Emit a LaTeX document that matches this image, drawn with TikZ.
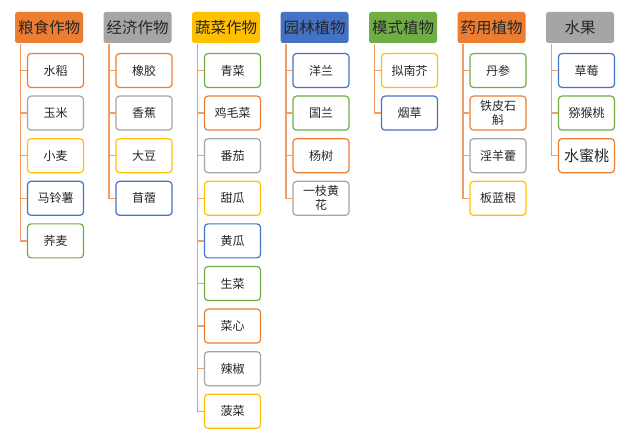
\documentclass[tikz,border=0pt]{standalone}
\usepackage{fontspec}
\setmainfont{Noto Sans CJK SC}
\usetikzlibrary{positioning,calc}

\definecolor{orng}{HTML}{ED7D31}
\definecolor{gry}{HTML}{A5A5A5}
\definecolor{gld}{HTML}{FFC000}
\definecolor{blu}{HTML}{4472C4}
\definecolor{grn}{HTML}{70AD47}
\definecolor{ink}{HTML}{262626}

\begin{document}
\begin{tikzpicture}[x=1pt, y=1pt, line width=1.2pt,
    head/.style={fill=#1, rounded corners=2.5pt, minimum width=68pt, minimum height=31pt,
      inner sep=0pt, text=ink, font=\fontsize{15.5}{17}\selectfont},
    crop/.style={draw=#1, fill=white, rounded corners=3.5pt, minimum width=56pt, minimum height=34pt,
      inner sep=0pt, align=center, text=ink, font=\fontsize{12}{14}\selectfont},
    link/.style={draw=orng!75, line width=1.5pt}]
  \useasboundingbox (0,0) rectangle (632,-435);
  % group headers
  \node[head=orng] (h1) at (49,-27.5) {粮食作物};
  \node[head=gry]  (h2) at (137.5,-27.5) {经济作物};
  \node[head=gld]  (h3) at (226,-27.5) {蔬菜作物};
  \node[head=blu]  (h4) at (314.5,-27.5) {园林植物};
  \node[head=grn]  (h5) at (403,-27.5) {模式植物};
  \node[head=orng] (h6) at (491.5,-27.5) {药用植物};
  \node[head=gry]  (h7) at (580,-27.5) {水果};
  % grain crops
  \node[crop=orng] (c11) at (55.5,-70.5) {水稻};
  \node[crop=gry]  (c12) at (55.5,-113.1) {玉米};
  \node[crop=gld]  (c13) at (55.5,-155.7) {小麦};
  \node[crop=blu]  (c14) at (55.5,-198.3) {马铃薯};
  \node[crop=grn]  (c15) at (55.5,-240.9) {荞麦};
  % cash crops
  \node[crop=orng] (c21) at (144,-70.5) {橡胶};
  \node[crop=gry]  (c22) at (144,-113.1) {香蕉};
  \node[crop=gld]  (c23) at (144,-155.7) {大豆};
  \node[crop=blu]  (c24) at (144,-198.3) {苜蓿};
  % vegetables
  \node[crop=grn]  (c31) at (232.5,-70.5) {青菜};
  \node[crop=orng] (c32) at (232.5,-113.1) {鸡毛菜};
  \node[crop=gry]  (c33) at (232.5,-155.7) {番茄};
  \node[crop=gld]  (c34) at (232.5,-198.3) {甜瓜};
  \node[crop=blu]  (c35) at (232.5,-240.9) {黄瓜};
  \node[crop=grn]  (c36) at (232.5,-283.5) {生菜};
  \node[crop=orng] (c37) at (232.5,-326.1) {菜心};
  \node[crop=gry]  (c38) at (232.5,-368.7) {辣椒};
  \node[crop=gld]  (c39) at (232.5,-411.3) {菠菜};
  % garden plants
  \node[crop=blu]  (c41) at (321,-70.5) {洋兰};
  \node[crop=grn]  (c42) at (321,-113.1) {国兰};
  \node[crop=orng] (c43) at (321,-155.7) {杨树};
  \node[crop=gry]  (c44) at (321,-198.3) {一枝黄\\花};
  % model plants
  \node[crop=gld]  (c51) at (409.5,-70.5) {拟南芥};
  \node[crop=blu]  (c52) at (409.5,-113.1) {烟草};
  % medicinal plants
  \node[crop=grn]  (c61) at (498,-70.5) {丹参};
  \node[crop=orng] (c62) at (498,-113.1) {铁皮石\\斛};
  \node[crop=gry]  (c63) at (498,-155.7) {淫羊藿};
  \node[crop=gld]  (c64) at (498,-198.3) {板蓝根};
  % fruit
  \node[crop=blu]  (c71) at (586.5,-70.5) {草莓};
  \node[crop=grn]  (c72) at (586.5,-113.1) {猕猴桃};
  \node[crop=orng, font=\fontsize{15}{17}\selectfont] (c73) at (586.5,-155.7) {水蜜桃};
  % tree lines
  \foreach \h/\cs in {h1/{c11,c12,c13,c14,c15}, h2/{c21,c22,c23,c24},
      h3/{c31,c32,c33,c34,c35,c36,c37,c38,c39}, h4/{c41,c42,c43,c44},
      h5/{c51,c52}, h6/{c61,c62,c63,c64}, h7/{c71,c72,c73}}
    \foreach \c in \cs
      \draw[link] ($(\h.south west)+(6,0)$) |- (\c.west);
\end{tikzpicture}
\end{document}
